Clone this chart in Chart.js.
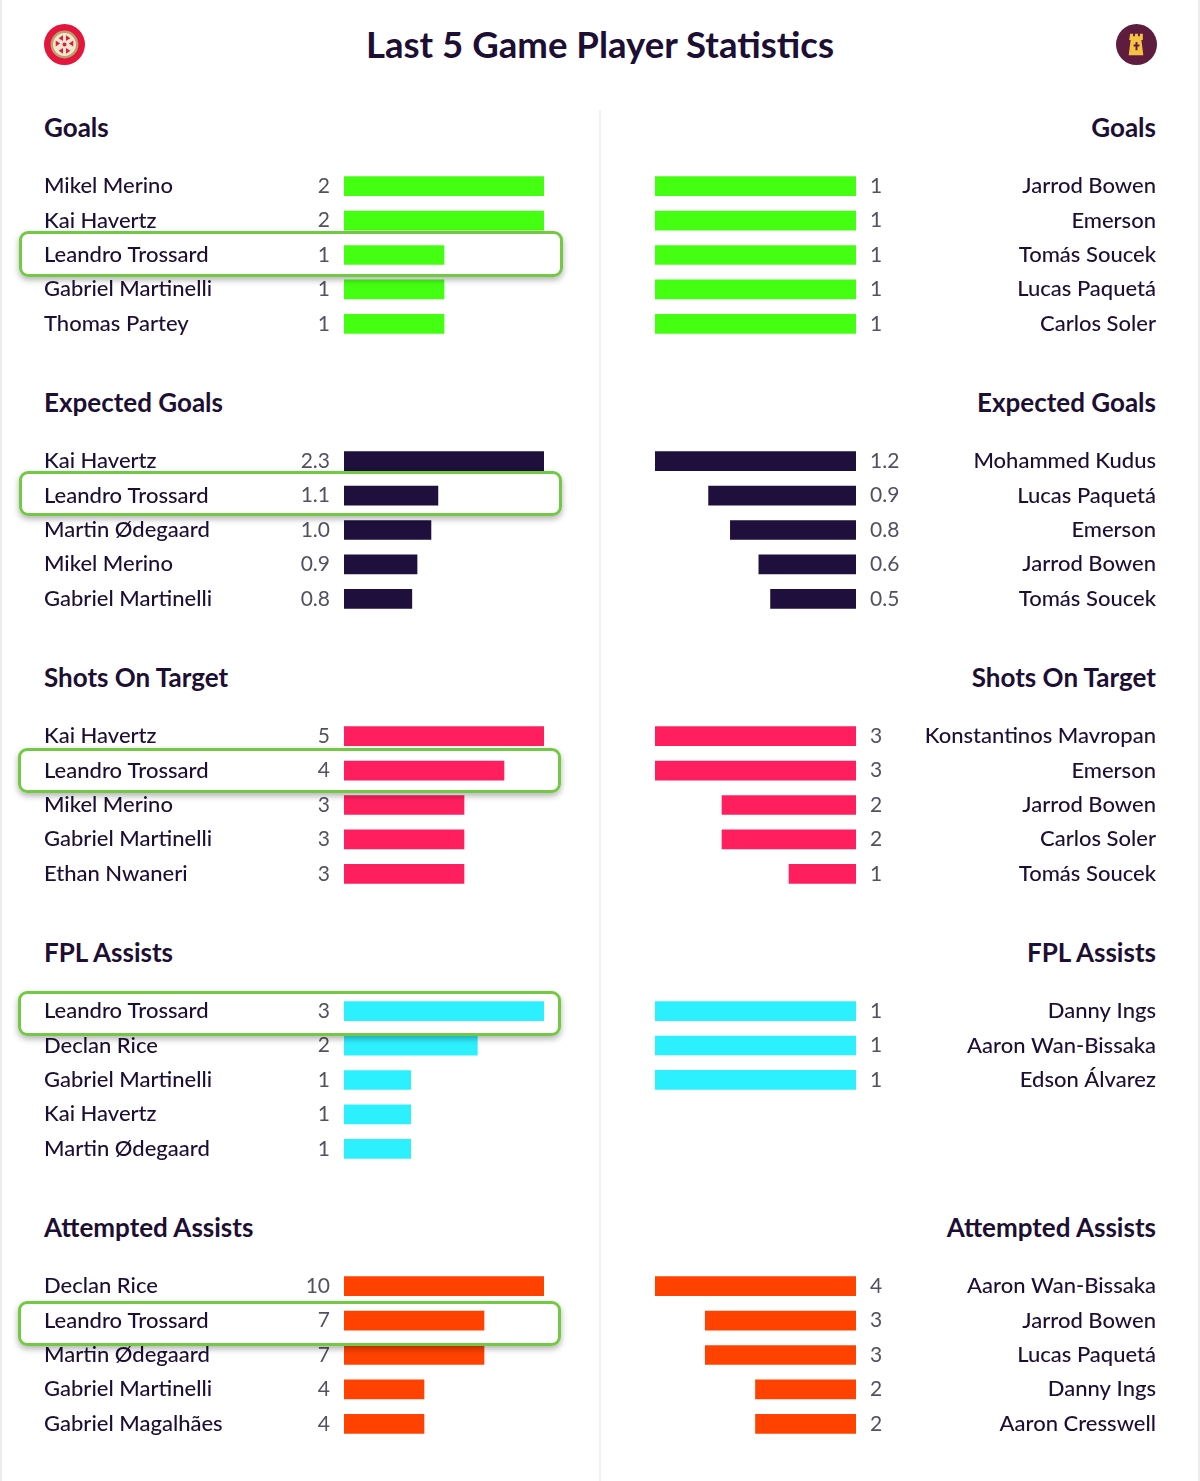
<!DOCTYPE html>
<html>
<head>
<meta charset="utf-8">
<title>Last 5 Game Player Statistics</title>
<script src="https://cdn.jsdelivr.net/npm/chart.js@4"></script>
<style>
  html, body { margin: 0; padding: 0; background: #fff; }
  body { position: relative; width: 1200px; height: 1481px; overflow: hidden; font-family: Lato, sans-serif; color: #1d0f33; }
  .edge { position: absolute; top: 0; bottom: 0; width: 2px; background: #ececec; }
  .divider { position: absolute; left: 599px; top: 110px; bottom: 0; width: 2px; background: #f1f1f1; }
  h1 { position: absolute; left: 0; width: 1200px; top: 22px; margin: 0; text-align: center; font-size: 36.6px; line-height: 44px; font-weight: 700; }
  h2 { position: absolute; margin: 0; font-size: 26px; line-height: 32px; font-weight: 700; }
  canvas { position: absolute; }
  .crest { position: absolute; top: 24px; width: 41px; height: 41px; }
  .box { position: absolute; box-sizing: border-box; border: 3px solid #74c944; border-radius: 9px; box-shadow: 0 3px 6px rgba(0,0,0,0.3); }
</style>
</head>
<body>
<div class="edge" style="left:0"></div>
<div class="edge" style="right:0"></div>
<div class="divider"></div>
<h1>Last 5 Game Player Statistics</h1>

<svg class="crest" style="left:44px" viewBox="0 0 42 42">
  <circle cx="21" cy="21" r="21" fill="#e3173e"/>
  <circle cx="21" cy="21" r="13" fill="#f3e6cf" stroke="#b9a36a" stroke-width="2.500"/>
  <g fill="#d3213f">
    <path d="M19.500 11.500v6l-4.500-3zM22.500 11.500v6l4.500-3zM12 17l4.500 3-4.500 3zM30 17l-4.500 3 4.500 3zM19.500 30.500v-6l-4.500 3zM22.500 30.500v-6l4.500 3z"/>
  </g>
  <circle cx="21" cy="21" r="2" fill="#d3213f"/>
</svg>
<svg class="crest" style="left:1116px" viewBox="0 0 42 42">
  <circle cx="21" cy="21" r="21" fill="#5e1c3f"/>
  <path d="M14.500 10h3v2.500h2v-2.500h3v2.500h2v-2.500h3v6.500h-1.500l2 15.500h-15l2-15.500h-1.500z" fill="#f6c244"/>
  <path d="M20 18.500h2v2.500h2v2h-2v4h-2v-4h-2v-2h2z" fill="#5e1c3f"/>
</svg>

<script>
// section titles
const sections = ['Goals', 'Expected Goals', 'Shots On Target', 'FPL Assists', 'Attempted Assists'];
const barColors = ['#45ff12', '#1f0f3c', '#ff1f5f', '#2df0ff', '#ff4200'];

// Arsenal side
const homeNames = [
  ['Mikel Merino', 'Kai Havertz', 'Leandro Trossard', 'Gabriel Martinelli', 'Thomas Partey'],
  ['Kai Havertz', 'Leandro Trossard', 'Martin Ødegaard', 'Mikel Merino', 'Gabriel Martinelli'],
  ['Kai Havertz', 'Leandro Trossard', 'Mikel Merino', 'Gabriel Martinelli', 'Ethan Nwaneri'],
  ['Leandro Trossard', 'Declan Rice', 'Gabriel Martinelli', 'Kai Havertz', 'Martin Ødegaard'],
  ['Declan Rice', 'Leandro Trossard', 'Martin Ødegaard', 'Gabriel Martinelli', 'Gabriel Magalhães']
];
// bar lengths, xG is not rounded here
const homeValues = [
  [2, 2, 1, 1, 1],
  [2.3, 1.08, 1.0, 0.84, 0.78],
  [5, 4, 3, 3, 3],
  [3, 2, 1, 1, 1],
  [10, 7, 7, 4, 4]
];
const homeLabels = [
  ['2', '2', '1', '1', '1'],
  ['2.3', '1.1', '1.0', '0.9', '0.8'],
  ['5', '4', '3', '3', '3'],
  ['3', '2', '1', '1', '1'],
  ['10', '7', '7', '4', '4']
];

// West Ham side
const awayNames = [
  ['Jarrod Bowen', 'Emerson', 'Tomás Soucek', 'Lucas Paquetá', 'Carlos Soler'],
  ['Mohammed Kudus', 'Lucas Paquetá', 'Emerson', 'Jarrod Bowen', 'Tomás Soucek'],
  ['Konstantinos Mavropan', 'Emerson', 'Jarrod Bowen', 'Carlos Soler', 'Tomás Soucek'],
  ['Danny Ings', 'Aaron Wan-Bissaka', 'Edson Álvarez'],
  ['Aaron Wan-Bissaka', 'Jarrod Bowen', 'Lucas Paquetá', 'Danny Ings', 'Aaron Cresswell']
];
const awayValues = [
  [1, 1, 1, 1, 1],
  [1.2, 0.88, 0.75, 0.58, 0.51],
  [3, 3, 2, 2, 1],
  [1, 1, 1],
  [4, 3, 3, 2, 2]
];
const awayLabels = [
  ['1', '1', '1', '1', '1'],
  ['1.2', '0.9', '0.8', '0.6', '0.5'],
  ['3', '3', '2', '2', '1'],
  ['1', '1', '1'],
  ['4', '3', '3', '2', '2']
];

// green boxes around Trossard: left, top, width, height
const highlights = [
  [19, 231, 544, 46],
  [19, 471, 543, 45],
  [18, 748, 543, 45],
  [18, 991, 543, 45],
  [18, 1301, 543, 45]
];

const fontFamily = 'Lato, sans-serif';
const rowHeight = 34.4;
const sectionStep = 275;

// numbers between the name and the bar
const valueLabels = {
  id: 'valueLabels',
  afterDatasetsDraw(chart, args, opts) {
    const ctx = chart.ctx;
    const base = chart.scales.x.getPixelForValue(0);
    ctx.save();
    ctx.font = '21px ' + fontFamily;
    ctx.fillStyle = '#55505f';
    ctx.textBaseline = 'middle';
    ctx.textAlign = opts.away ? 'left' : 'right';
    opts.labels.forEach((text, i) => {
      ctx.fillText(text, base + (opts.away ? 14 : -14), chart.scales.y.getPixelForTick(i));
    });
    ctx.restore();
  }
};

function addHeading(text, top, away) {
  const h = document.createElement('h2');
  h.textContent = text;
  h.style.top = top + 'px';
  if (away) h.style.right = '44px'; else h.style.left = '44px';
  document.body.appendChild(h);
}

function addPanel(i, names, values, labels, away) {
  const canvas = document.createElement('canvas');
  const width = away ? 501 : 500;
  const height = Math.round(names.length * rowHeight);
  canvas.width = width;
  canvas.height = height;
  canvas.style.left = (away ? 655 : 44) + 'px';
  canvas.style.top = (169 + i * sectionStep) + 'px';
  document.body.appendChild(canvas);

  new Chart(canvas, {
    type: 'bar',
    data: {
      labels: names,
      datasets: [{ data: values, backgroundColor: barColors[i], barThickness: 19 }]
    },
    plugins: [valueLabels],
    options: {
      indexAxis: 'y',
      responsive: false,
      animation: false,
      layout: { padding: 0 },
      scales: {
        x: {
          display: false,
          reverse: away,
          min: 0,
          max: Math.max(...values)
        },
        y: {
          position: away ? 'right' : 'left',
          afterFit: scale => {
            scale.width = 300;
            // bars need the full canvas height, no room for half a label
            scale.paddingTop = 0;
            scale.paddingBottom = 0;
          },
          border: { display: false },
          grid: { display: false, drawTicks: false },
          ticks: {
            crossAlign: 'far',
            autoSkip: false,
            color: '#1d0f33',
            font: { family: fontFamily, size: 22, weight: '500' }
          }
        }
      },
      plugins: {
        legend: { display: false },
        tooltip: { enabled: false },
        valueLabels: { labels: labels, away: away }
      }
    }
  });
}

sections.forEach((name, i) => {
  addHeading(name, 111 + i * sectionStep, false);
  addHeading(name, 111 + i * sectionStep, true);
  addPanel(i, homeNames[i], homeValues[i], homeLabels[i], false);
  addPanel(i, awayNames[i], awayValues[i], awayLabels[i], true);
});

highlights.forEach(b => {
  const d = document.createElement('div');
  d.className = 'box';
  d.style.left = b[0] + 'px';
  d.style.top = b[1] + 'px';
  d.style.width = b[2] + 'px';
  d.style.height = b[3] + 'px';
  document.body.appendChild(d);
});
</script>
</body>
</html>
